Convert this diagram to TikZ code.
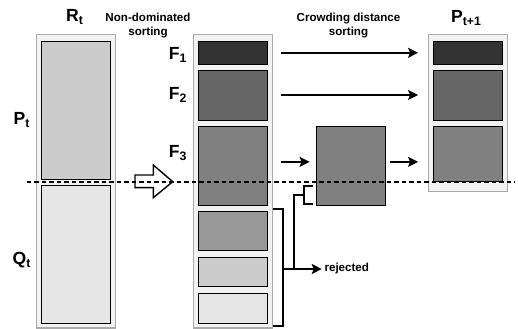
\documentclass[tikz,border=0pt]{standalone}
\usepackage{fontspec}
\setmainfont{Liberation Sans}
\usetikzlibrary{arrows.meta, positioning}
\definecolor{pop-frame}{RGB}{242,242,242}
\definecolor{pop-edge}{RGB}{170,170,170}
\definecolor{front-1}{RGB}{51,51,51}
\definecolor{front-2}{RGB}{102,102,102}
\definecolor{front-3}{RGB}{128,128,128}
\definecolor{front-4}{RGB}{153,153,153}
\definecolor{front-5}{RGB}{204,204,204}
\definecolor{front-6}{RGB}{230,230,230}

\begin{document}
\begin{tikzpicture}[
  pop/.style={rectangle,draw=pop-edge,fill=pop-frame,line width=0.8pt,
              minimum width=1.58cm,inner sep=0},
  front/.style={rectangle,draw,line width=0.5pt,minimum width=1.38cm,inner sep=0},
  setname/.style={font=\bfseries\fontsize{10}{12}\selectfont},
  stage/.style={font=\bfseries\fontsize{6.6}{8}\selectfont,align=center},
  arrow/.style={-{Stealth[length=2mm,width=2mm,inset=0.4mm]},line width=1pt},
  bracket/.style={line width=1pt}
]
  \useasboundingbox (0,0) rectangle (10.36,6.58);

  % combined population R_t
  \node[pop, minimum height=5.874cm]             (R)  at (1.52,2.957) {};
  \node[front, fill=front-5, minimum height=2.754cm] (P)  at (1.52,4.377) {};
  \node[front, fill=front-6, minimum height=2.752cm] (Q)  at (1.52,1.49)  {};

  % fronts after non-dominated sorting
  \node[pop, minimum height=5.874cm]             (F)  at (4.656,2.957) {};
  \node[front, fill=front-1, minimum height=0.46cm]  (F1) at (4.656,5.524) {};
  \node[front, fill=front-2, minimum height=1.0cm]   (F2) at (4.656,4.68)  {};
  \node[front, fill=front-3, minimum height=1.566cm] (F3) at (4.656,3.263) {};
  \node[front, fill=front-4, minimum height=0.794cm] (F4) at (4.656,1.963) {};
  \node[front, fill=front-5, minimum height=0.588cm] (F5) at (4.656,1.14)  {};
  \node[front, fill=front-6, minimum height=0.6cm]   (F6) at (4.656,0.414) {};

  % last front, sorted by crowding distance
  \node[front, fill=front-3, minimum height=1.566cm] (cd) at (7.01,3.263) {};

  % next population P_{t+1}
  \node[pop, minimum height=3.148cm]             (N)  at (9.356,4.32)  {};
  \node[front, fill=front-1, minimum height=0.46cm]  (N1) at (9.36,5.524)  {};
  \node[front, fill=front-2, minimum height=1.0cm]   (N2) at (9.36,4.68)   {};
  \node[front, fill=front-3, minimum height=1.1cm]   (N3) at (9.36,3.496)  {};

  % labels
  \node[setname] (R-lbl)  at (1.5,6.24)  {R\textsubscript{t}};
  \node[setname] (P-lbl)  at (0.44,4.18) {P\textsubscript{t}};
  \node[setname] (Q-lbl)  at (0.44,1.38) {Q\textsubscript{t}};
  \node[setname] (F1-lbl) at (3.56,5.48) {F\textsubscript{1}};
  \node[setname] (F2-lbl) at (3.56,4.68) {F\textsubscript{2}};
  \node[setname] (F3-lbl) at (3.56,3.52) {F\textsubscript{3}};
  \node[setname] (N-lbl)  at (9.33,6.22) {P\textsubscript{t+1}};
  \node[stage]   (nds)    at (2.96,6.06) {Non-dominated\\sorting};
  \node[stage]   (cds)    at (6.97,6.06) {Crowding distance\\sorting};

  % hollow block arrow for the sorting step
  \draw[line width=0.8pt, line join=miter]
    (2.7,3.08) -- (3.066,3.08) -- (3.066,3.28) -- (3.454,2.946)
    -- (3.066,2.626) -- (3.066,2.826) -- (2.7,2.826) -- cycle;

  \draw[arrow, shorten <=2.7mm, shorten >=3mm] (F1) -- (N1);
  \draw[arrow, shorten <=2.7mm, shorten >=3mm] (F2) -- (N2);
  \draw[arrow, shorten <=2.7mm, shorten >=1.2mm] ([yshift=0.8mm]F3.east) -- ([yshift=0.8mm]cd.west);
  \draw[arrow, shorten <=0.9mm, shorten >=3mm] ([yshift=0.8mm]cd.east) -- ([yshift=0.8mm]cd.east -| N3.west);

  % rejected fronts
  \coordinate (rej-top) at (5.466,2.4);
  \coordinate (rej-bot) at (5.466,0.06);
  \coordinate (cut-top) at (6.266,2.866);
  \coordinate (cut-bot) at (6.266,2.494);
  \node[stage, anchor=west, inner sep=0.05cm] (rejected) at (6.434,1.2) {rejected};
  \draw[bracket] (rej-top) -- ++(0.2,0) |- (rej-bot);
  \draw[bracket] (cut-top) -- ++(-0.186,0) |- (cut-bot);
  \draw[bracket] (6.08,2.68) -| (5.886,1.2);
  \draw[arrow] (rejected.west -| 5.666,0) -- (rejected.west);

  % cut between P_t and Q_t
  \draw[line width=1pt, dash pattern=on 0.09cm off 0.06cm] (0.534,2.946) -- (10.3,2.946);
\end{tikzpicture}
\end{document}
